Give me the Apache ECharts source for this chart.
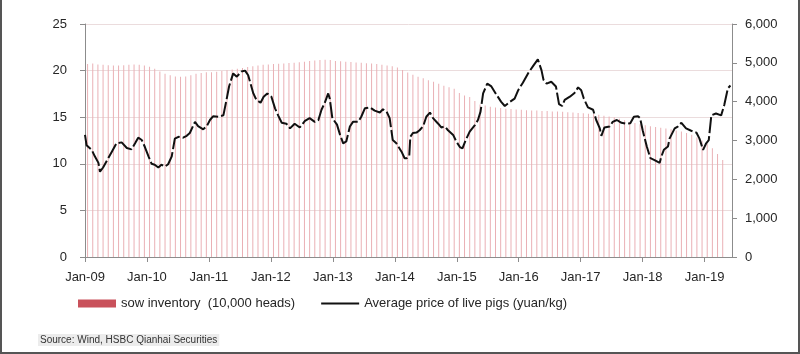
<!DOCTYPE html>
<html>
<head>
<meta charset="utf-8">
<script src="https://cdn.jsdelivr.net/npm/echarts@6/dist/echarts.min.js"></script>
<style>
  html, body { margin: 0; padding: 0; background: #fff; }
  #container { width: 800px; height: 354px; }
</style>
</head>
<body>
<div id="container"></div>
<script>
// monthly sow inventory, 10,000 heads, Jan-09 .. Apr-19
var sowInventory = [
    4970, 4980, 4960, 4950, 4940, 4930, 4930, 4940, 4950, 4960, 4950, 4930, // 2009
    4900, 4850, 4780, 4720, 4680, 4650, 4640, 4650, 4680, 4720, 4740, 4760, // 2010
    4760, 4770, 4790, 4810, 4830, 4850, 4870, 4890, 4910, 4930, 4950, 4960, // 2011
    4970, 4975, 4985, 4995, 5005, 5015, 5030, 5045, 5060, 5075, 5080, 5075, // 2012
    5050, 5040, 5030, 5020, 5010, 5000, 4990, 4980, 4970, 4950, 4930, 4910, // 2013
    4880, 4815, 4750, 4690, 4640, 4600, 4550, 4510, 4460, 4410, 4370, 4330, // 2014
    4220, 4160, 4120, 4020, 3930, 3900, 3870, 3850, 3840, 3820, 3810, 3800, // 2015
    3790, 3780, 3770, 3770, 3760, 3760, 3750, 3750, 3740, 3730, 3720, 3710, // 2016
    3700, 3690, 3680, 3660, 3640, 3620, 3590, 3560, 3520, 3480, 3450, 3420, // 2017
    3390, 3370, 3350, 3330, 3310, 3290, 3260, 3230, 3190, 3150, 3080, 3000, // 2018
    2920, 2800, 2650, 2500                                                  // 2019
];

// average live pig price (yuan/kg): [months since Jan-09, price]
var pigPrice = [
    [0, 13.1], [0.3, 12.0], [1.3, 11.5], [1.9, 10.8], [2.6, 10.1], [2.9, 9.15], [3.5, 9.6],
    [4.5, 10.6], [5.2, 11.3], [6.1, 12.2], [7.1, 12.3], [8.1, 11.7], [9.0, 11.55], [9.7, 12.2],
    [10.3, 12.8], [11.0, 12.55], [11.6, 11.8], [12.3, 10.8], [12.9, 10.0], [13.5, 9.9], [14.2, 9.6],
    [14.8, 9.9], [15.5, 9.7], [16.1, 9.95], [16.8, 10.8], [17.4, 12.7], [18.1, 12.9], [19.0, 12.8],
    [19.7, 13.0], [20.3, 13.3], [21.3, 14.5], [21.9, 14.05], [22.9, 13.7], [23.6, 14.05], [24.2, 14.7],
    [24.8, 15.1], [25.8, 15.05], [26.8, 15.2], [27.4, 16.85], [27.9, 18.3], [28.7, 19.7], [29.4, 19.35],
    [30.3, 19.9], [31.0, 20.0], [31.6, 19.5], [32.6, 17.55], [33.2, 16.85], [34.0, 16.55], [34.6, 17.2],
    [35.3, 17.55], [36.1, 17.2], [36.8, 15.95], [37.4, 15.2], [38.1, 14.4], [39.0, 14.3], [39.7, 13.8],
    [40.6, 14.3], [41.6, 13.9], [42.6, 14.6], [43.5, 14.9], [44.5, 14.5], [45.2, 14.7], [45.8, 15.8],
    [46.4, 16.5], [47.1, 17.55], [47.4, 17.0], [47.9, 14.9], [48.8, 14.2], [49.4, 13.1], [50.0, 12.2],
    [50.6, 12.4], [51.3, 14.0], [51.9, 14.5], [52.9, 14.5], [53.5, 15.05], [54.2, 15.95], [55.2, 16.05],
    [56.1, 15.7], [57.1, 15.5], [57.7, 15.85], [58.4, 15.6], [59.0, 14.9], [59.6, 12.55], [60.3, 12.2],
    [61.3, 11.3], [61.9, 10.6], [62.3, 10.6], [62.8, 10.85], [63.0, 12.9], [63.5, 13.3], [64.2, 13.35],
    [64.8, 13.6], [65.5, 14.05], [66.1, 15.05], [66.8, 15.5], [67.4, 14.9], [68.4, 14.3], [69.0, 13.9],
    [69.7, 14.0], [70.3, 13.6], [71.3, 13.1], [71.9, 12.4], [72.6, 11.8], [73.1, 11.65], [73.7, 12.5],
    [74.5, 13.45], [75.5, 14.15], [76.1, 14.7], [76.6, 15.6], [77.1, 17.55], [77.9, 18.6], [78.7, 18.3],
    [79.7, 17.4], [80.6, 16.65], [81.3, 16.2], [82.3, 16.65], [83.2, 17.0], [83.9, 17.9], [84.8, 18.7],
    [85.8, 19.7], [86.8, 20.5], [87.7, 21.2], [88.4, 20.05], [88.8, 19.0], [89.4, 18.6], [90.3, 18.8],
    [91.2, 18.3], [91.8, 16.4], [92.4, 16.2], [92.9, 16.85], [93.9, 17.2], [94.8, 17.6], [95.5, 18.2],
    [96.1, 17.9], [96.6, 17.0], [97.4, 16.05], [98.4, 15.8], [99.0, 14.7], [99.7, 13.8], [100.0, 13.0],
    [100.6, 13.9], [101.6, 14.0], [102.2, 14.5], [103.0, 14.7], [103.9, 14.4], [104.8, 14.3], [105.6, 14.35],
    [106.3, 15.05], [107.1, 15.1], [107.5, 14.9], [108.0, 13.6], [108.8, 11.85], [109.5, 10.6], [110.3, 10.4],
    [111.3, 10.1], [111.6, 10.75], [112.1, 11.5], [112.9, 11.85], [113.2, 12.7], [114.2, 13.8], [114.8, 14.0],
    [115.5, 14.4], [116.4, 13.8], [117.4, 13.55], [118.4, 13.35], [119.0, 12.7], [119.7, 11.5], [120.3, 12.2],
    [120.8, 12.55], [121.3, 15.2], [122.2, 15.4], [123.2, 15.2], [123.8, 16.3], [124.5, 18.1], [125.0, 18.4]
];

var sowName = 'sow inventory  (10,000 heads)';
var priceName = 'Average price of live pigs (yuan/kg)';
var sourceText = 'Source: Wind, HSBC Qianhai Securities';

// monthly figures sit at mid-month
var sowData = sowInventory.map(function (v, i) { return [i + 0.5, v]; });

var font = 'Liberation Sans, Arial, sans-serif';
var textColor = '#262626';
var axisColor = '#8c8c8c';

var dom = document.getElementById('container');
var myChart = echarts.init(dom, null, { renderer: 'canvas' });

var option = {
    animation: false,
    backgroundColor: '#fff',
    grid: { left: 85, right: 68, top: 24, bottom: 97 },
    title: {
        text: sourceText,
        left: 38,
        top: 334,
        padding: [1, 2],
        backgroundColor: '#ececec',
        textStyle: { fontFamily: font, fontSize: 10, fontWeight: 'normal', color: '#333' }
    },
    legend: {
        left: 78,
        top: 297,
        padding: 0,
        itemWidth: 38,
        itemHeight: 8,
        itemGap: 25,
        textStyle: { fontFamily: font, fontSize: 13, color: textColor },
        data: [
            { name: sowName, icon: 'rect', itemStyle: { color: '#c9515b' } },
            {
                name: priceName,
                itemStyle: { opacity: 0 },
                lineStyle: { type: 'solid', width: 2, color: '#111' }
            }
        ]
    },
    xAxis: {
        type: 'value',
        min: 0,
        max: 125.3,
        interval: 12,
        axisLine: { show: true, lineStyle: { color: axisColor } },
        axisTick: { show: true, length: 5, lineStyle: { color: axisColor } },
        splitLine: { show: false },
        axisLabel: {
            margin: 14,
            fontFamily: font,
            fontSize: 13,
            color: textColor,
            showMaxLabel: false,
            formatter: function (v) {
                if (v % 12 !== 0) return '';
                var yy = 9 + v / 12;
                return 'Jan-' + (yy < 10 ? '0' + yy : yy);
            }
        }
    },
    yAxis: [
        {
            type: 'value',
            min: 0,
            max: 25,
            interval: 5,
            axisLine: { show: true, lineStyle: { color: axisColor } },
            axisTick: { show: true, length: 5, lineStyle: { color: axisColor } },
            splitLine: { show: true, lineStyle: { color: '#ebdcdd' } },
            axisLabel: { margin: 18, fontFamily: font, fontSize: 13, color: textColor }
        },
        {
            type: 'value',
            min: 0,
            max: 6000,
            interval: 1000,
            axisLine: { show: true, lineStyle: { color: axisColor } },
            axisTick: { show: true, length: 5, lineStyle: { color: axisColor } },
            splitLine: { show: false },
            axisLabel: {
                margin: 13,
                fontFamily: font,
                fontSize: 13,
                color: textColor,
                formatter: function (v) { return v.toLocaleString('en-US'); }
            }
        }
    ],
    graphic: [
        // outer frame (left, right, bottom)
        { type: 'rect', shape: { x: 0, y: 0, width: 2, height: 354 }, style: { fill: '#555' } },
        { type: 'rect', shape: { x: 798, y: 0, width: 2, height: 354 }, style: { fill: '#555' } },
        { type: 'rect', shape: { x: 0, y: 352, width: 800, height: 2 }, style: { fill: '#555' } }
    ],
    series: [
        {
            name: sowName,
            type: 'bar',
            yAxisIndex: 1,
            barWidth: 1,
            data: sowData,
            itemStyle: { color: '#eab0b5' }
        },
        {
            name: priceName,
            type: 'line',
            yAxisIndex: 0,
            symbol: 'none',
            data: pigPrice,
            itemStyle: { color: '#111' },
            lineStyle: { color: '#111', width: 2, type: [16, 3] },
            z: 3
        }
    ]
};

myChart.setOption(option);
window.addEventListener('resize', myChart.resize);
</script>
</body>
</html>
